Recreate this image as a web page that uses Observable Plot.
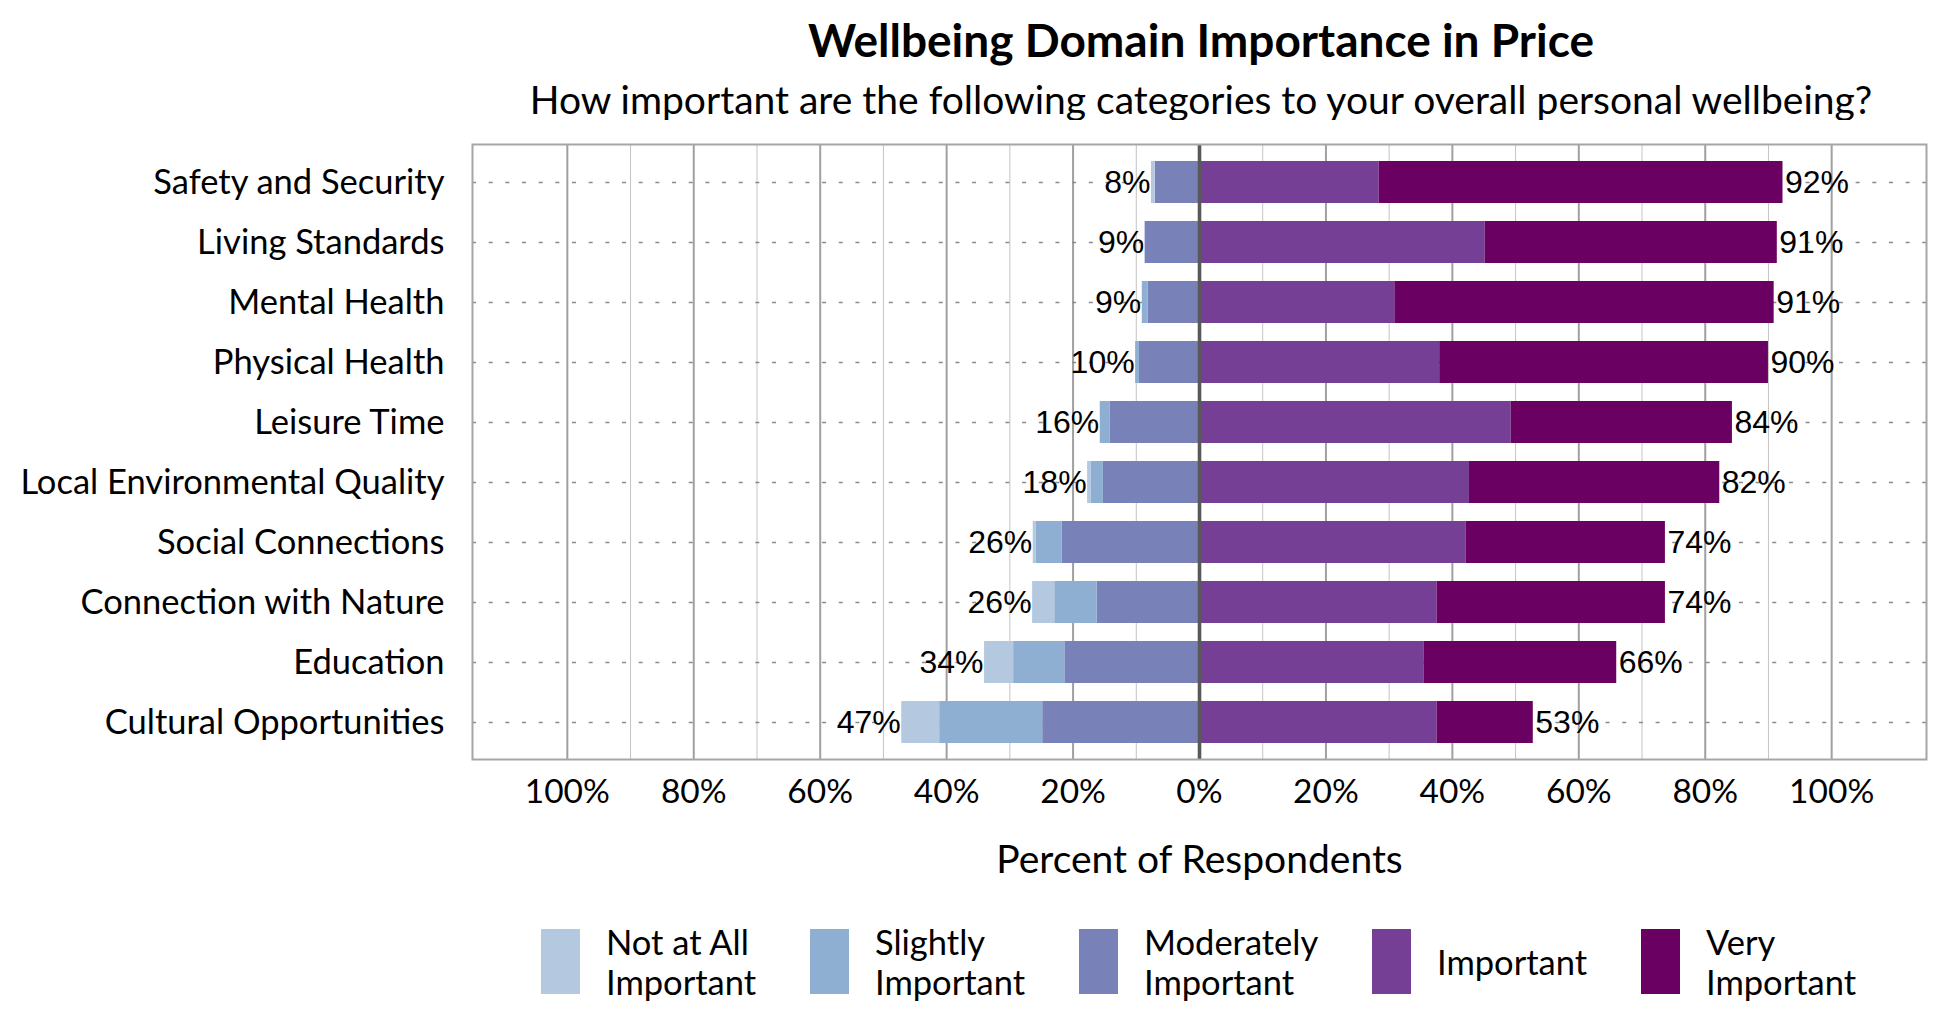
<!DOCTYPE html>
<html>
<head>
<meta charset="utf-8">
<script src="https://cdn.jsdelivr.net/npm/d3@7"></script>
<script src="https://cdn.jsdelivr.net/npm/@observablehq/plot@0.6"></script>
<style>
  html, body { margin: 0; padding: 0; background: #fff; }
  #root { position: relative; width: 1950px; height: 1020px; overflow: hidden; font-family: Lato, "Open Sans", sans-serif; color: #000; }
  .ttl { position: absolute; white-space: nowrap; transform: translateX(-50%); line-height: 1; }
  #title { left: 1201px; top: 17px; font-size: 46px; font-weight: 700; }
  #subtitle { left: 1201px; top: 80px; font-size: 39px; }
  #chart { position: absolute; left: 0; top: 120px; }
  .lg { position: absolute; top: 929px; height: 65px; display: flex; align-items: center; }
  .sw { width: 39px; height: 65px; flex: none; }
  .lt { margin-left: 26px; font-size: 34.5px; line-height: 40px; white-space: nowrap; }
</style>
</head>
<body>
<div id="root">
  <div id="title" class="ttl"></div>
  <div id="subtitle" class="ttl"></div>
  <div id="chart"></div>
</div>
<script>
// ---------- data ----------
const titleText = "Wellbeing Domain Importance in Price";
const subtitleText = "How important are the following categories to your overall personal wellbeing?";
const axisLabel = "Percent of Respondents";

const categories = [
  "Safety and Security",
  "Living Standards",
  "Mental Health",
  "Physical Health",
  "Leisure Time",
  "Local Environmental Quality",
  "Social Connections",
  "Connection with Nature",
  "Education",
  "Cultural Opportunities"
];

const levels = ["Not at All Important", "Slightly Important", "Moderately Important", "Important", "Very Important"];
const legendLines = [["Not at All", "Important"], ["Slightly", "Important"], ["Moderately", "Important"], ["Important"], ["Very", "Important"]];

const notAtAll      = [0.6, 0.0, 0.0, 0.0, 0.0, 0.6, 0.5, 3.5, 4.6, 6.0];
const slightly      = [0.0, 0.0, 0.95, 0.6, 1.6, 1.9, 4.1, 6.7, 8.1, 16.3];
const moderately    = [7.0, 8.6, 8.1, 9.5, 14.1, 15.2, 21.7, 16.2, 21.3, 24.8];
const important     = [28.4, 45.2, 30.9, 38.0, 49.3, 42.7, 42.2, 37.6, 35.5, 37.6];
const veryImportant = [63.9, 46.2, 60.0, 52.0, 35.0, 39.6, 31.5, 36.1, 30.5, 15.2];

const xTicks = [-100, -80, -60, -40, -20, 0, 20, 40, 60, 80, 100];
const minorTicks = [-90, -70, -50, -30, -10, 10, 30, 50, 70, 90];
const majorGrid = [-100, -80, -60, -40, -20, 20, 40, 60, 80, 100];

// ---------- style ----------
const colors = ["#b4c9e0", "#8eaed2", "#7982b8", "#743f94", "#6a0062"];
const legendLeft = [541, 810, 1079, 1372, 1641];

// ---------- build table ----------
const series = [notAtAll, slightly, moderately, important, veryImportant];
const segs = [];
const negTotals = [];
const posTotals = [];
categories.forEach((c, i) => {
  let lo = 0;
  for (const k of [2, 1, 0]) {
    const v = series[k][i];
    if (v > 0) segs.push({cat: c, level: levels[k], x1: lo - v, x2: lo});
    lo -= v;
  }
  negTotals.push({cat: c, x: lo, label: Math.round(-lo) + "%"});
  let hi = 0;
  for (const k of [3, 4]) {
    const v = series[k][i];
    if (v > 0) segs.push({cat: c, level: levels[k], x1: hi, x2: hi + v});
    hi += v;
  }
  posTotals.push({cat: c, x: hi, label: Math.round(hi) + "%"});
});

document.getElementById("title").textContent = titleText;
document.getElementById("subtitle").textContent = subtitleText;

const labelFont = "'Liberation Sans', Arial, sans-serif";

const chart = Plot.plot({
  width: 1950,
  height: 780,
  marginTop: 24,
  marginBottom: 141,
  marginLeft: 472,
  marginRight: 24,
  style: {fontFamily: "Lato, 'Open Sans', sans-serif", fontSize: "34px", color: "#000", background: "#fff"},
  x: {domain: [-115, 115]},
  y: {domain: categories, paddingInner: 0.306, paddingOuter: 0.23},
  color: {domain: levels, range: colors},
  marks: [
    Plot.ruleX(minorTicks, {stroke: "#c4c4c4", strokeWidth: 1}),
    Plot.ruleX(majorGrid, {stroke: "#a0a0a0", strokeWidth: 2}),
    Plot.ruleY(categories, {y: d => d, stroke: "#8a8a8a", strokeWidth: 1.6, strokeDasharray: "4,12.67"}),
    Plot.barX(segs, {x1: "x1", x2: "x2", y: "cat", fill: "level"}),
    Plot.ruleX([0], {stroke: "#595959", strokeWidth: 3.6}),
    Plot.frame({stroke: "#a6a6a6", strokeWidth: 2}),
    Plot.axisX({ticks: xTicks, tickFormat: d => Math.abs(d) + "%", tickSize: 0, tickPadding: 20, fontSize: 33.5, label: null}),
    Plot.axisY({tickSize: 0, tickPadding: 28, fontSize: 34.5, label: null}),
    Plot.text([axisLabel], {frameAnchor: "bottom", dy: 113, fontSize: 39, fill: "#000"}),
    Plot.text(negTotals, {x: "x", y: "cat", text: "label", textAnchor: "end", dx: -1, fontFamily: labelFont, fontSize: 32, fill: "#000"}),
    Plot.text(posTotals, {x: "x", y: "cat", text: "label", textAnchor: "start", dx: 2, fontFamily: labelFont, fontSize: 32, fill: "#000"})
  ]
});
document.getElementById("chart").appendChild(chart);

// ---------- legend ----------
const root = document.getElementById("root");
levels.forEach((lv, i) => {
  const item = document.createElement("div");
  item.className = "lg";
  item.style.left = legendLeft[i] + "px";
  const sw = document.createElement("div");
  sw.className = "sw";
  sw.style.background = colors[i];
  const tx = document.createElement("div");
  tx.className = "lt";
  tx.innerHTML = legendLines[i].join("<br>");
  item.appendChild(sw);
  item.appendChild(tx);
  root.appendChild(item);
});
</script>
</body>
</html>
